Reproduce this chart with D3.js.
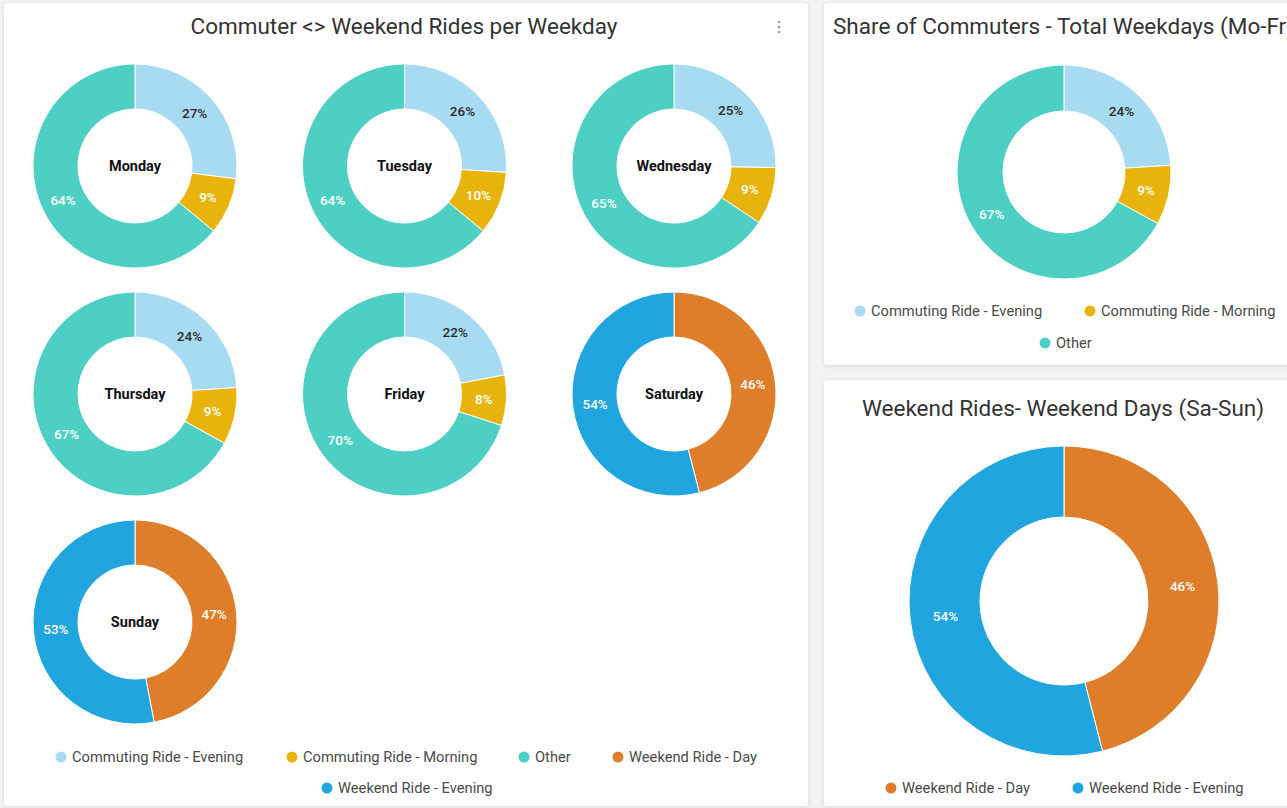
<!DOCTYPE html>
<html>
<head>
<meta charset="utf-8">
<script src="https://cdn.jsdelivr.net/npm/d3@7"></script>
<style>
  html, body { margin: 0; padding: 0; background: #f4f3f2; }
  svg { display: block; font-family: Roboto, "Noto Sans", sans-serif; }
</style>
</head>
<body>
<svg id="chart" width="1287" height="808"></svg>
<script>
// ---------- DATA ----------
const categories = ["Commuting Ride - Evening", "Commuting Ride - Morning", "Other", "Weekend Ride - Day", "Weekend Ride - Evening"];
const weekdays = ["Monday", "Tuesday", "Wednesday", "Thursday", "Friday"];
const weekendDays = ["Saturday", "Sunday"];
const commutingEvening = [27, 26, 25, 24, 22];
const commutingMorning = [9, 10, 9, 9, 8];
const otherRides = [64, 64, 65, 67, 70];
const weekendDay = [46, 47];
const weekendEvening = [54, 53];
const totalWeekdayCategories = ["Commuting Ride - Evening", "Commuting Ride - Morning", "Other"];
const totalWeekdayValues = [24, 9, 67];
const totalWeekendCategories = ["Weekend Ride - Day", "Weekend Ride - Evening"];
const totalWeekendValues = [46, 54];
const titles = ["Commuter <> Weekend Rides per Weekday", "Share of Commuters - Total Weekdays (Mo-Fr)", "Weekend Rides- Weekend Days (Sa-Sun)"];

// ---------- STYLE ----------
const color = d3.scaleOrdinal()
  .domain(categories)
  .range(["#a7dbf2", "#e8b40c", "#4dcfc3", "#de7e2a", "#20a5df"]);
const labelColor = c => c === "Commuting Ride - Evening" ? "#2b2b2b" : "#ffffff";

const svg = d3.select("#chart");
const defs = svg.append("defs");
const f = defs.append("filter").attr("id", "shadow").attr("x", "-5%").attr("y", "-5%").attr("width", "110%").attr("height", "110%");
f.append("feDropShadow").attr("dx", 0).attr("dy", 1).attr("stdDeviation", 2).attr("flood-color", "#000").attr("flood-opacity", 0.12);

// cards
const cards = [
  {x: 4, y: 3, w: 804, h: 803},
  {x: 824, y: 3, w: 470, h: 362},
  {x: 824, y: 380, w: 470, h: 426}
];
svg.selectAll("rect.card").data(cards).join("rect")
  .attr("class", "card")
  .attr("x", d => d.x).attr("y", d => d.y)
  .attr("width", d => d.w).attr("height", d => d.h)
  .attr("rx", 4).attr("fill", "#ffffff")
  .attr("filter", "url(#shadow)");

// titles
svg.append("text").attr("x", 404).attr("y", 34).attr("text-anchor", "middle")
  .attr("font-size", 22.5).attr("fill", "#333").text(titles[0]);
svg.append("text").attr("x", 833).attr("y", 34).attr("text-anchor", "start")
  .attr("font-size", 22.5).attr("fill", "#333").text(titles[1]);
svg.append("text").attr("x", 1063).attr("y", 416).attr("text-anchor", "middle")
  .attr("font-size", 22.5).attr("fill", "#333").text(titles[2]);

// kebab menu
svg.selectAll("circle.menu").data([0, 1, 2]).join("circle")
  .attr("class", "menu").attr("cx", 779).attr("cy", d => 22 + d * 5).attr("r", 1.3).attr("fill", "#9a9a9a");

const pie = d3.pie().sort(null).value(d => d.value).startAngle(0).endAngle(2 * Math.PI);

function donut(cx, cy, outer, inner, items, centerLabel, fontSize) {
  const g = svg.append("g").attr("transform", `translate(${cx},${cy})`);
  const arc = d3.arc().innerRadius(inner).outerRadius(outer);
  const mid = d3.arc().innerRadius((inner + outer) / 2).outerRadius((inner + outer) / 2);
  const arcs = pie(items);
  g.selectAll("path").data(arcs).join("path")
    .attr("d", arc)
    .attr("fill", d => color(d.data.cat))
    .attr("stroke", "#ffffff").attr("stroke-width", 1);
  g.selectAll("text.pct").data(arcs).join("text")
    .attr("class", "pct")
    .attr("transform", d => `translate(${mid.centroid(d)})`)
    .attr("text-anchor", "middle").attr("dy", "0.35em")
    .attr("font-size", fontSize).attr("font-weight", 500)
    .attr("fill", d => labelColor(d.data.cat))
    .text(d => d.data.value + "%");
  if (centerLabel) {
    g.append("text").attr("text-anchor", "middle").attr("dy", "0.35em")
      .attr("font-size", 14.5).attr("font-weight", 700).attr("fill", "#111")
      .text(centerLabel);
  }
}

// small multiples
const colX = d3.scalePoint().domain([0, 1, 2]).range([135, 674]);
const rowY = d3.scalePoint().domain([0, 1, 2]).range([166, 622]);
const allDays = weekdays.concat(weekendDays);
allDays.forEach((day, i) => {
  let items;
  if (i < weekdays.length) {
    items = [
      {cat: categories[0], value: commutingEvening[i]},
      {cat: categories[1], value: commutingMorning[i]},
      {cat: categories[2], value: otherRides[i]}
    ];
  } else {
    const j = i - weekdays.length;
    items = [
      {cat: categories[3], value: weekendDay[j]},
      {cat: categories[4], value: weekendEvening[j]}
    ];
  }
  donut(colX(i % 3), rowY(Math.floor(i / 3)), 102, 57, items, day, 13.5);
});

// totals
donut(1064, 172, 107, 61,
  totalWeekdayValues.map((v, i) => ({cat: totalWeekdayCategories[i], value: v})), null, 13.5);
donut(1064, 601, 155, 84,
  totalWeekendValues.map((v, i) => ({cat: totalWeekendCategories[i], value: v})), null, 13.5);

// legends
function legend(rows) {
  rows.forEach(row => {
    row.items.forEach(it => {
      svg.append("circle").attr("cx", it.x).attr("cy", row.y).attr("r", 5.5).attr("fill", color(it.cat));
      svg.append("text").attr("x", it.x + 11).attr("y", row.y).attr("dy", "0.35em")
        .attr("font-size", 14.7).attr("fill", "#4a4a4a").text(it.cat);
    });
  });
}
legend([
  {y: 757, items: [{cat: categories[0], x: 61}, {cat: categories[1], x: 292}, {cat: categories[2], x: 524}, {cat: categories[3], x: 618}]},
  {y: 788, items: [{cat: categories[4], x: 327}]}
]);
legend([
  {y: 311, items: [{cat: totalWeekdayCategories[0], x: 860}, {cat: totalWeekdayCategories[1], x: 1090}]},
  {y: 343, items: [{cat: totalWeekdayCategories[2], x: 1045}]}
]);
legend([
  {y: 788, items: [{cat: totalWeekendCategories[0], x: 891}, {cat: totalWeekendCategories[1], x: 1078}]}
]);
</script>
</body>
</html>
